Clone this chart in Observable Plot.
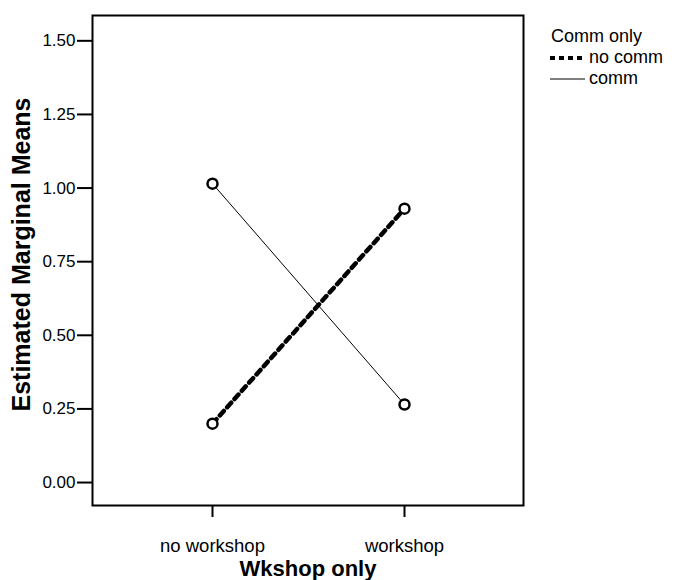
<!DOCTYPE html>
<html><head><meta charset="utf-8">
<script src="https://cdn.jsdelivr.net/npm/d3@7"></script>
<script src="https://cdn.jsdelivr.net/npm/@observablehq/plot@0.6"></script>
<style>
body{margin:0;background:#fff;font-family:"Liberation Sans",Arial,Helvetica,sans-serif;}
#wrap{position:relative;width:675px;height:580px;}
#legend{position:absolute;left:550px;top:26px;font-size:18px;color:#000;line-height:21px;}
#legend .row{display:flex;align-items:center;height:21px;}
#legend svg{margin-right:4px;}
</style></head><body><div id="wrap"><div id="legend"></div></div>
<script>
const categories = ["no workshop", "workshop"];
const seriesNames = ["no comm", "comm"];
const noCommValues = [0.20, 0.93];
const commValues = [1.015, 0.265];
const yTicks = [0, 0.25, 0.5, 0.75, 1, 1.25, 1.5];
const legendTitle = "Comm only";
const xTitle = "Wkshop only";
const yTitle = "Estimated Marginal Means";

const data = [
  ...categories.map((c, i) => ({wk: c, grp: seriesNames[0], v: noCommValues[i]})),
  ...categories.map((c, i) => ({wk: c, grp: seriesNames[1], v: commValues[i]}))
];
const lineStyle = {
  "no comm": {strokeWidth: 4.5, strokeDasharray: "6,5"},
  "comm": {strokeWidth: 1, strokeDasharray: null}
};

const chart = Plot.plot({
  width: 675, height: 580,
  marginLeft: 92, marginRight: 152, marginTop: 15, marginBottom: 75,
  style: {fontFamily: '"Liberation Sans", Arial, sans-serif', fontSize: "17px", color: "#000", background: "#fff", overflow: "visible"},
  x: {type: "point", domain: categories, padding: 0.617},
  y: {domain: [-0.078, 1.586]},
  marks: [
    Plot.frame({stroke: "#000", strokeWidth: 2}),
    Plot.axisY({ticks: yTicks, tickFormat: d3.format(".2f"), tickSize: 15, tickPadding: 2, strokeWidth: 2, fontSize: 17,
      label: yTitle, labelAnchor: "center", labelOffset: 80, labelArrow: false}),
    Plot.axisX({tickSize: 12, tickPadding: 21, strokeWidth: 2, fontSize: 18.5,
      label: xTitle, labelAnchor: "center", labelOffset: 70, labelArrow: false}),
    ...seriesNames.map(s => Plot.line(data.filter(d => d.grp === s), {
      x: "wk", y: "v", stroke: "#000", strokeWidth: lineStyle[s].strokeWidth,
      strokeDasharray: lineStyle[s].strokeDasharray
    })),
    Plot.dot(data, {x: "wk", y: "v", r: 5, stroke: "#000", strokeWidth: 2.5, fill: "#fff"})
  ]
});
document.getElementById("wrap").prepend(chart);

d3.select(chart).selectAll('[aria-label="y-axis label"] text, [aria-label="y-axis label"]')
  .attr("font-size", "25px").attr("font-weight", "bold");
d3.select(chart).selectAll('[aria-label="y-axis label"] text').attr("dx", "6");
d3.select(chart).selectAll('[aria-label="x-axis label"] text, [aria-label="x-axis label"]')
  .attr("font-size", "22px").attr("font-weight", "bold");

const leg = d3.select("#legend");
leg.append("div").attr("class", "row").style("padding-left", "1px").text(legendTitle);
seriesNames.forEach(s => {
  const row = leg.append("div").attr("class", "row");
  const svg = row.append("svg").attr("width", 35).attr("height", 10);
  svg.append("line").attr("x1", 0).attr("x2", 35).attr("y1", 5).attr("y2", 5)
    .attr("stroke", "#000").attr("stroke-width", Math.min(lineStyle[s].strokeWidth, 4))
    .attr("stroke-dasharray", lineStyle[s].strokeDasharray ? "5,4" : null);
  row.append("span").text(s);
});
</script>
</body></html>
